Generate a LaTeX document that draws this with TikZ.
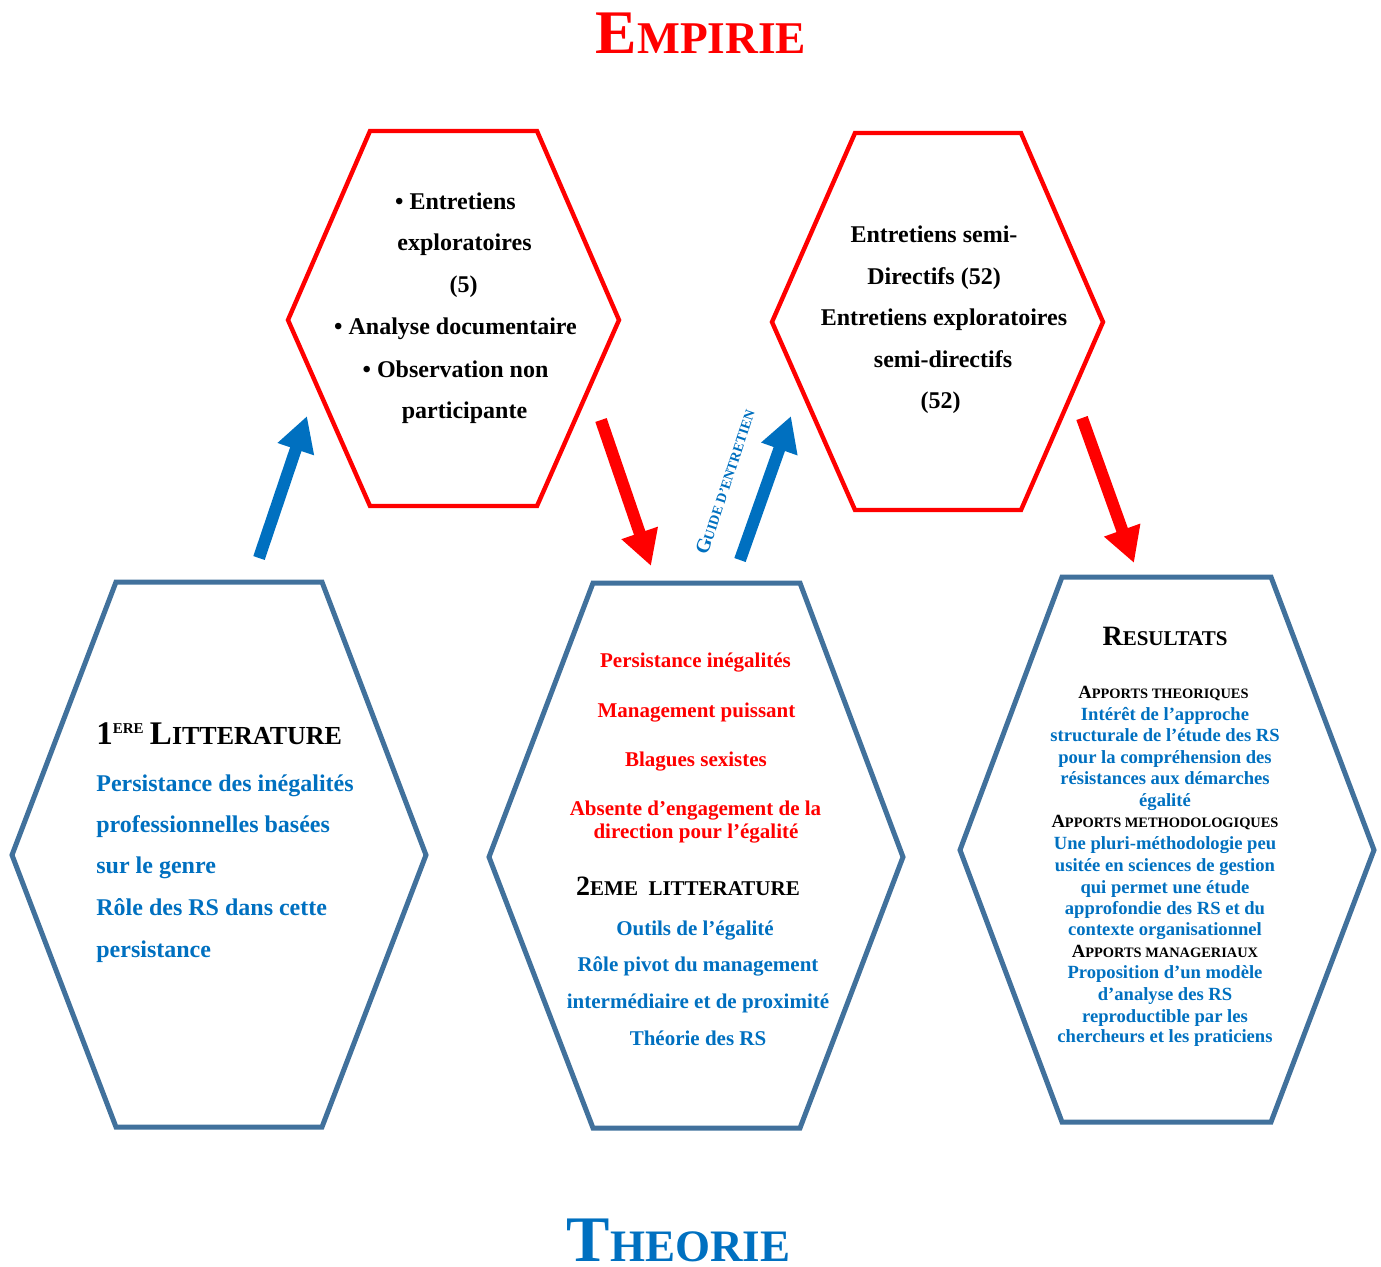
\documentclass[tikz,border=0pt]{standalone}
\usepackage{fontspec}
\setmainfont{Liberation Serif}
\usetikzlibrary{arrows.meta}
\definecolor{empred}{HTML}{FF0000}
\definecolor{txtblue}{HTML}{0070C0}
\definecolor{hexblue}{HTML}{41719C}
\newcommand\fz[2]{{\fontsize{#1pt}{#1pt}\selectfont #2}}
\begin{document}
\begin{tikzpicture}[x=0.5pt,y=-0.5pt,
  t/.style={inner sep=0pt, anchor=base, font=\bfseries},
  tl/.style={t, anchor=base west},
  f12/.style={font=\bfseries\fontsize{12pt}{14pt}\selectfont},
  f105/.style={font=\bfseries\fontsize{10.5pt}{12pt}\selectfont},
  f93/.style={font=\bfseries\fontsize{9.3pt}{11pt}\selectfont},
  hexR/.style={draw=empred, line width=2.2pt},
  hexB/.style={draw=hexblue, line width=2.5pt},
  arrB/.style={draw=txtblue, line width=6pt, -{Triangle[length=17.5pt,width=18pt]}},
  arrR/.style={draw=empred, line width=6pt, -{Triangle[length=17.5pt,width=18pt]}}]
\useasboundingbox (0,0) rectangle (1381,1266);

% hexagons
\draw[hexR] (370,131) -- (537,131) -- (619,320) -- (537,506) -- (370,506) -- (288,320) -- cycle;
\draw[hexR] (855,133) -- (1021,133) -- (1103,322) -- (1021,510) -- (855,510) -- (772,322) -- cycle;
\draw[hexB] (116,582) -- (322,582) -- (426,855) -- (322,1127) -- (116,1127) -- (12,855) -- cycle;
\draw[hexB] (593,583) -- (800,583) -- (903,857) -- (800,1128) -- (593,1128) -- (489,857) -- cycle;
\draw[hexB] (1062,577) -- (1271,577) -- (1374,850) -- (1271,1122) -- (1062,1122) -- (960,850) -- cycle;

% arrow end points
\coordinate (a1s) at (259,558); \coordinate (a1e) at (307,416);
\coordinate (a2s) at (601,420); \coordinate (a2e) at (651,566);
\coordinate (a3s) at (740,560); \coordinate (a3e) at (791,416);
\coordinate (a4s) at (1082,418); \coordinate (a4e) at (1134,563);
\draw[arrB] (a1s) -- (a1e);
\draw[arrR] (a2s) -- (a2e);
\draw[arrB] (a3s) -- (a3e);
\draw[arrR] (a4s) -- (a4e);

% titles
\node[t, text=empred] (emp) at (701,53) {\fz{31}{E}\fz{22.7}{MPIRIE}};
\node[t, text=txtblue] (theo) at (678.5,1261) {\fz{32.5}{T}\fz{22.5}{HEORIE}};
\node[inner sep=0pt, text=txtblue, font=\bfseries, rotate=71.7] (guide) at (725,482) {\fz{10}{G}\fz{7}{UIDE D’ENTRETIEN}};

% top-left hexagon
\node[t,f12] (e1) at (455.5,209) {\textbullet\ Entretiens};
\node[t,f12] (e2) at (464.5,250) {exploratoires};
\node[t,f12] (e3) at (463.5,292) {(5)};
\node[t,f12] (e4) at (455.5,334) {\textbullet\ Analyse documentaire};
\node[t,f12] (e5) at (455.5,377) {\textbullet\ Observation non};
\node[t,f12] (e6) at (464.5,418) {participante};

% top-right hexagon
\node[t,f12] (s1) at (934,242) {Entretiens semi-};
\node[t,f12] (s2) at (934,284) {Directifs (52)};
\node[t,f12] (s3) at (944,325) {Entretiens exploratoires};
\node[t,f12] (s4) at (943,367) {semi-directifs};
\node[t,f12] (s5) at (940.5,408) {(52)};

% bottom-left hexagon
\node[tl,font=\bfseries\fontsize{12.5pt}{14pt}\selectfont] (lit1) at (96,744) {\fz{16.5}{1}\raisebox{5.5pt}{\fz{7.5}{ERE}} \fz{16.5}{L}\fz{13}{ITTERATURE}};
\node[tl,f12,text=txtblue] (b1) at (96,791) {Persistance des inégalités};
\node[tl,f12,text=txtblue] (b2) at (96,832) {professionnelles basées};
\node[tl,f12,text=txtblue] (b3) at (96,873) {sur le genre};
\node[tl,f12,text=txtblue] (b4) at (96,915) {Rôle des RS dans cette};
\node[tl,f12,text=txtblue] (b5) at (96,957) {persistance};

% bottom-middle hexagon
\node[t,f105,text=empred] (m1) at (695.5,667) {Persistance inégalités};
\node[t,f105,text=empred] (m2) at (696.5,717) {Management puissant};
\node[t,f105,text=empred] (m3) at (696,766) {Blagues sexistes};
\node[t,f105,text=empred] (m4) at (695.5,815) {Absente d’engagement de la};
\node[t,f105,text=empred] (m5) at (696,838) {direction pour l’égalité};
\node[t,f105] (lit2) at (688,895) {\fz{14}{2}\fz{10.5}{EME\ \ LITTERATURE}};
\node[t,f105,text=txtblue] (m6) at (695,935) {Outils de l’égalité};
\node[t,f105,text=txtblue] (m7) at (698,971) {Rôle pivot du management};
\node[t,f105,text=txtblue] (m8) at (698,1008) {intermédiaire et de proximité};
\node[t,f105,text=txtblue] (m9) at (698,1045) {Théorie des RS};

% bottom-right hexagon
\node[t,f105] (res) at (1165,645) {\fz{14}{R}\fz{10.5}{ESULTATS}};
\node[t,f93] (ap1) at (1163.5,698) {\fz{9.3}{A}\fz{7.2}{PPORTS THEORIQUES}};
\node[t,f93,text=txtblue] (r1) at (1165,720) {Intérêt de l’approche};
\node[t,f93,text=txtblue] (r2) at (1165,741) {structurale de l’étude des RS};
\node[t,f93,text=txtblue] (r3) at (1165,763) {pour la compréhension des};
\node[t,f93,text=txtblue] (r4) at (1165,784) {résistances aux démarches};
\node[t,f93,text=txtblue] (r5) at (1165,806) {égalité};
\node[t,f93] (ap2) at (1165,827) {\fz{9.3}{A}\fz{7.2}{PPORTS METHODOLOGIQUES}};
\node[t,f93,text=txtblue] (r6) at (1165,849) {Une pluri-méthodologie peu};
\node[t,f93,text=txtblue] (r7) at (1165,871) {usitée en sciences de gestion};
\node[t,f93,text=txtblue] (r8) at (1165,893) {qui permet une étude};
\node[t,f93,text=txtblue] (r9) at (1165,914) {approfondie des RS et du};
\node[t,f93,text=txtblue] (r10) at (1165,935) {contexte organisationnel};
\node[t,f93] (ap3) at (1165,957) {\fz{9.3}{A}\fz{7.2}{PPORTS MANAGERIAUX}};
\node[t,f93,text=txtblue] (r11) at (1165,978) {Proposition d’un modèle};
\node[t,f93,text=txtblue] (r12) at (1165,1000) {d’analyse des RS};
\node[t,f93,text=txtblue] (r13) at (1165,1022) {reproductible par les};
\node[t,f93,text=txtblue] (r14) at (1165,1042) {chercheurs et les praticiens};
\end{tikzpicture}
\end{document}
